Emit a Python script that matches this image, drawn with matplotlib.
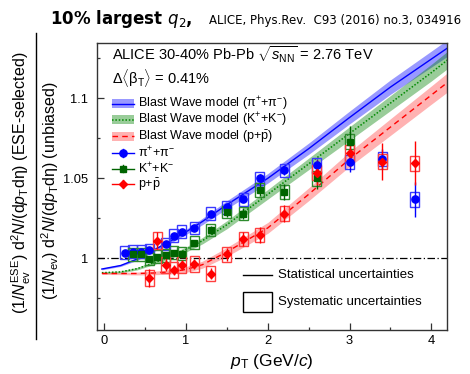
import matplotlib
matplotlib.use("Agg")
import matplotlib.pyplot as plt
from matplotlib.patches import Rectangle
from matplotlib.lines import Line2D
from matplotlib.ticker import MultipleLocator, FixedLocator, FixedFormatter

plt.rcParams["font.family"] = ["Liberation Sans", "DejaVu Sans"]
plt.rcParams["mathtext.fontset"] = "custom"
plt.rcParams["mathtext.rm"] = "Liberation Sans"
plt.rcParams["mathtext.it"] = "Liberation Sans:italic"
plt.rcParams["mathtext.bf"] = "Liberation Sans:bold"

# ---- measured ratios (ESE-selected / unbiased), 30-40% Pb-Pb ----
pt_pi = [0.25, 0.35, 0.45, 0.55, 0.75, 0.85, 0.95, 1.1, 1.3, 1.5, 1.7, 1.9, 2.2, 2.6, 3.0, 3.4, 3.8]
ratio_pi = [1.0035, 1.004, 1.004, 1.005, 1.009, 1.014, 1.0165, 1.019, 1.028, 1.032, 1.037, 1.050,
            1.055, 1.058, 1.060, 1.062, 1.037]
stat_pi = [0.0008, 0.0008, 0.0008, 0.0008, 0.0009, 0.001, 0.001, 0.0012, 0.0015, 0.0018, 0.002,
           0.0025, 0.003, 0.004, 0.006, 0.006, 0.011]
sys_pi = [0.0042, 0.004, 0.004, 0.004, 0.004, 0.004, 0.004, 0.004, 0.0039, 0.004, 0.004, 0.004,
          0.0042, 0.0045, 0.0045, 0.0045, 0.0047]

pt_k = [0.35, 0.45, 0.55, 0.65, 0.75, 0.85, 0.95, 1.1, 1.3, 1.5, 1.7, 1.9, 2.2, 2.6, 3.0]
ratio_k = [1.0025, 1.0025, 0.9995, 1.001, 1.002, 1.0035, 1.003, 1.0097, 1.0177, 1.029, 1.028,
           1.0428, 1.0415, 1.050, 1.073]
stat_k = [0.0012, 0.0012, 0.0012, 0.0013, 0.0014, 0.0015, 0.0016, 0.002, 0.0025, 0.003, 0.0035,
          0.004, 0.005, 0.007, 0.0095]
sys_k = [0.004, 0.004, 0.004, 0.004, 0.004, 0.004, 0.004, 0.004, 0.004, 0.004, 0.0042, 0.0042,
         0.0045, 0.0047, 0.0047]

pt_p = [0.55, 0.65, 0.75, 0.85, 0.95, 1.1, 1.3, 1.5, 1.7, 1.9, 2.2, 2.6, 3.0, 3.4, 3.8]
ratio_p = [0.9875, 1.011, 0.996, 0.9927, 0.9958, 0.9965, 0.9905, 1.0025, 1.012, 1.0146, 1.028,
           1.0536, 1.0658, 1.0605, 1.0595]
stat_p = [0.0057, 0.0052, 0.004, 0.003, 0.003, 0.003, 0.0035, 0.004, 0.0045, 0.005, 0.0055,
          0.008, 0.009, 0.0117, 0.0139]
sys_p = [0.005, 0.0052, 0.005, 0.005, 0.005, 0.005, 0.0045, 0.0045, 0.0045, 0.0045, 0.0047,
         0.0047, 0.0047, 0.0047, 0.0047]

# ---- Blast Wave model curves and their uncertainty bands ----
bw_pt = [-0.03, 0.2, 0.4, 0.6, 0.8, 1.0, 1.2, 1.5, 2.0, 2.5, 3.0, 3.5, 4.0, 4.2]
bw_pi = [0.9933, 0.9955, 0.9995, 1.005, 1.0105, 1.0165, 1.023, 1.0335, 1.050, 1.0685, 1.088,
         1.107, 1.1245, 1.1315]
bw_k = [0.991, 0.9915, 0.9935, 0.997, 1.001, 1.0055, 1.011, 1.021, 1.040, 1.059, 1.078, 1.097,
        1.116, 1.124]
bw_p = [0.9905, 0.9905, 0.9905, 0.9908, 0.9915, 0.993, 0.996, 1.004, 1.019, 1.040, 1.062, 1.082,
        1.102, 1.110]
bw_pi_err = [0.0005, 0.0006, 0.0008, 0.001, 0.0013, 0.0016, 0.002, 0.0025, 0.003, 0.0035, 0.004,
             0.0045, 0.005, 0.0052]
bw_k_err = [0.0005, 0.0006, 0.0008, 0.001, 0.0013, 0.0016, 0.002, 0.0025, 0.003, 0.0036, 0.0042,
            0.0047, 0.0052, 0.0054]
bw_p_err = [0.0006, 0.0007, 0.0009, 0.0011, 0.0014, 0.0018, 0.0022, 0.0028, 0.0034, 0.004, 0.0046,
            0.0052, 0.0057, 0.006]

y_ticks = [1.0, 1.05, 1.1]
y_tick_labels = ["1", "1.05", "1.1"]
x_ticks = [0, 1, 2, 3, 4]

W, H = 470, 374
fig = plt.figure(figsize=(W / 100, H / 100), dpi=100)


def fx(x):
    return x / W


def fy(y):
    return 1 - y / H


ax = fig.add_axes([fx(96.7), fy(329.5), fx(447) - fx(96.7), fy(42.7) - fy(329.5)])
ax.set_xlim(-0.093, 4.192)
ax.set_ylim(0.9555, 1.13475)

BLUE, GREEN, RED = "#0000ff", "#007a00", "#ff0000"
band_styles = [
    (bw_pi, bw_pi_err, (0, 0, 1, 0.4), BLUE, "-", 1.0),
    (bw_k, bw_k_err, (0, 0.5, 0, 0.4), "#008800", (0, (1, 1.2)), 1.1),
    (bw_p, bw_p_err, (1, 0, 0, 0.3), RED, (0, (4, 3)), 1.0),
]
for vals, err, fc, lc, ls, lw in band_styles:
    lo = [v - e for v, e in zip(vals, err)]
    hi = [v + e for v, e in zip(vals, err)]
    ax.fill_between(bw_pt, lo, hi, color=fc, lw=0, zorder=1)
for vals, err, fc, lc, ls, lw in band_styles:
    ax.plot(bw_pt, vals, color=lc, ls=ls, lw=lw, zorder=2)

ax.axhline(1.0, color="black", ls=(0, (6, 2, 1, 2)), lw=0.9, zorder=2)

series = [
    (pt_pi, ratio_pi, stat_pi, sys_pi, BLUE, "#3a3aff", "o", 5.2),
    (pt_k, ratio_k, stat_k, sys_k, "#006400", "#2e8b2e", "s", 4.6),
    (pt_p, ratio_p, stat_p, sys_p, RED, "#ff4040", "D", 3.6),
]
half_w = 0.055
for xs, ys, st, sy, col, bcol, mk, ms in series:
    for x, y, s in zip(xs, ys, sy):
        ax.add_patch(Rectangle((x - half_w, y - s), 2 * half_w, 2 * s, fill=False,
                               ec=bcol, lw=1.0, zorder=3))
    ax.errorbar(xs, ys, yerr=st, fmt=mk, color=col, ms=ms, mec=col, elinewidth=1.0,
                capsize=0, zorder=4)

# axes styling
for s in ax.spines.values():
    s.set_color("#333333")
    s.set_linewidth(1.0)
ax.xaxis.set_major_locator(FixedLocator(x_ticks))
ax.xaxis.set_minor_locator(MultipleLocator(0.5))
ax.yaxis.set_major_locator(FixedLocator(y_ticks))
ax.yaxis.set_major_formatter(FixedFormatter(y_tick_labels))
ax.yaxis.set_minor_locator(MultipleLocator(0.025))
ax.tick_params(which="both", direction="in", top=False, right=False, labelsize=9.3,
               color="#333333")
ax.tick_params(which="major", length=4.7, width=0.9)
ax.tick_params(which="minor", length=2.4, width=0.9)
ax.tick_params(axis="y", pad=6)
ax.tick_params(axis="x", pad=4)

# header text inside the frame
fig.text(fx(111.7), fy(55), r"ALICE 30-40% Pb-Pb $\sqrt{s_{\rm NN}}$ = 2.76 TeV",
         fontsize=10.5, va="center", ha="left")
fig.text(fx(111.7), fy(78), r"$\Delta\langle{\rm \beta}_{\rm T}\rangle$ = 0.41%",
         fontsize=10.5, va="center", ha="left")

# legend entries
leg_y = [103.5, 119.8, 136.3, 152.8, 168.5, 184.3]
x0, x1, xt = 111.7, 134.3, 138.3
band_labels = [r"Blast Wave model (${\rm \pi}^{+}$+${\rm \pi}^{-}$)",
               r"Blast Wave model (K$^{+}$+K$^{-}$)",
               r"Blast Wave model (p+$\bar{\rm p}$)"]
for (vals, err, fc, lc, ls, lw), y, lab in zip(band_styles, leg_y[:3], band_labels):
    fig.add_artist(Rectangle((fx(x0), fy(y + 4.5)), fx(x1) - fx(x0), fy(y - 4.5) - fy(y + 4.5),
                             transform=fig.transFigure, fc=fc, lw=0))
    fig.add_artist(Line2D([fx(x0), fx(x1)], [fy(y), fy(y)], color=lc, ls=ls, lw=lw,
                          transform=fig.transFigure))
    fig.text(fx(xt), fy(y), lab, fontsize=9, va="center", ha="left")

marker_labels = [r"${\rm \pi}^{+}$+${\rm \pi}^{-}$", r"K$^{+}$+K$^{-}$", r"p+$\bar{\rm p}$"]
for (xs, ys, st, sy, col, bcol, mk, ms), y, lab in zip(series, leg_y[3:], marker_labels):
    xm = (x0 + x1) / 2
    fig.add_artist(Line2D([fx(x0), fx(x1)], [fy(y), fy(y)], color=col, lw=1.0,
                          transform=fig.transFigure))
    fig.add_artist(Line2D([fx(xm), fx(xm)], [fy(y + 4), fy(y - 4)], color=col, lw=1.0,
                          transform=fig.transFigure))
    fig.add_artist(Line2D([fx(xm)], [fy(y)], color=col, marker=mk, ms=ms, mec=col,
                          transform=fig.transFigure))
    fig.text(fx(xt), fy(y), lab, fontsize=9, va="center", ha="left")

# uncertainty legend
fig.add_artist(Line2D([fx(243), fx(272)], [fy(275), fy(275)], color="black", lw=1.0,
                      transform=fig.transFigure))
fig.text(fx(278), fy(275), "Statistical uncertainties", fontsize=9.5, va="center", ha="left")
fig.add_artist(Rectangle((fx(243), fy(312)), fx(272) - fx(243), fy(292) - fy(312),
                         transform=fig.transFigure, fill=False, ec="black", lw=1.0))
fig.text(fx(278), fy(302), "Systematic uncertainties", fontsize=9.5, va="center", ha="left")

# axis titles
fig.text(fx(272), fy(361.7), r"$p_{\rm T}$ (GeV/$c$)", fontsize=12.5, ha="center", va="center")
fig.text(fx(21), fy(182.5),
         r"$(1/N_{\rm ev}^{\rm ESE})\ {\rm d}^{2}N/({\rm d}p_{\rm T}{\rm d\eta})$ (ESE-selected)",
         fontsize=11.5, rotation=90, ha="center", va="center")
fig.text(fx(50), fy(191),
         r"$(1/N_{\rm ev})\ {\rm d}^{2}N/({\rm d}p_{\rm T}{\rm d\eta})$ (unbiased)",
         fontsize=11.5, rotation=90, ha="center", va="center")
fig.add_artist(Line2D([fx(36), fx(36)], [fy(33), fy(339)], color="black", lw=1.0,
                      transform=fig.transFigure))

# title
fig.text(fx(50), fy(24), r"10% largest $q_2$,", fontsize=12, fontweight="bold",
         family="DejaVu Sans", math_fontfamily="dejavusans", va="baseline", ha="left")
fig.text(fx(209), fy(24), "ALICE, Phys.Rev.  C93 (2016) no.3, 034916", fontsize=8.5,
         family="DejaVu Sans", va="baseline", ha="left")

fig.savefig("out.png", dpi=100)
